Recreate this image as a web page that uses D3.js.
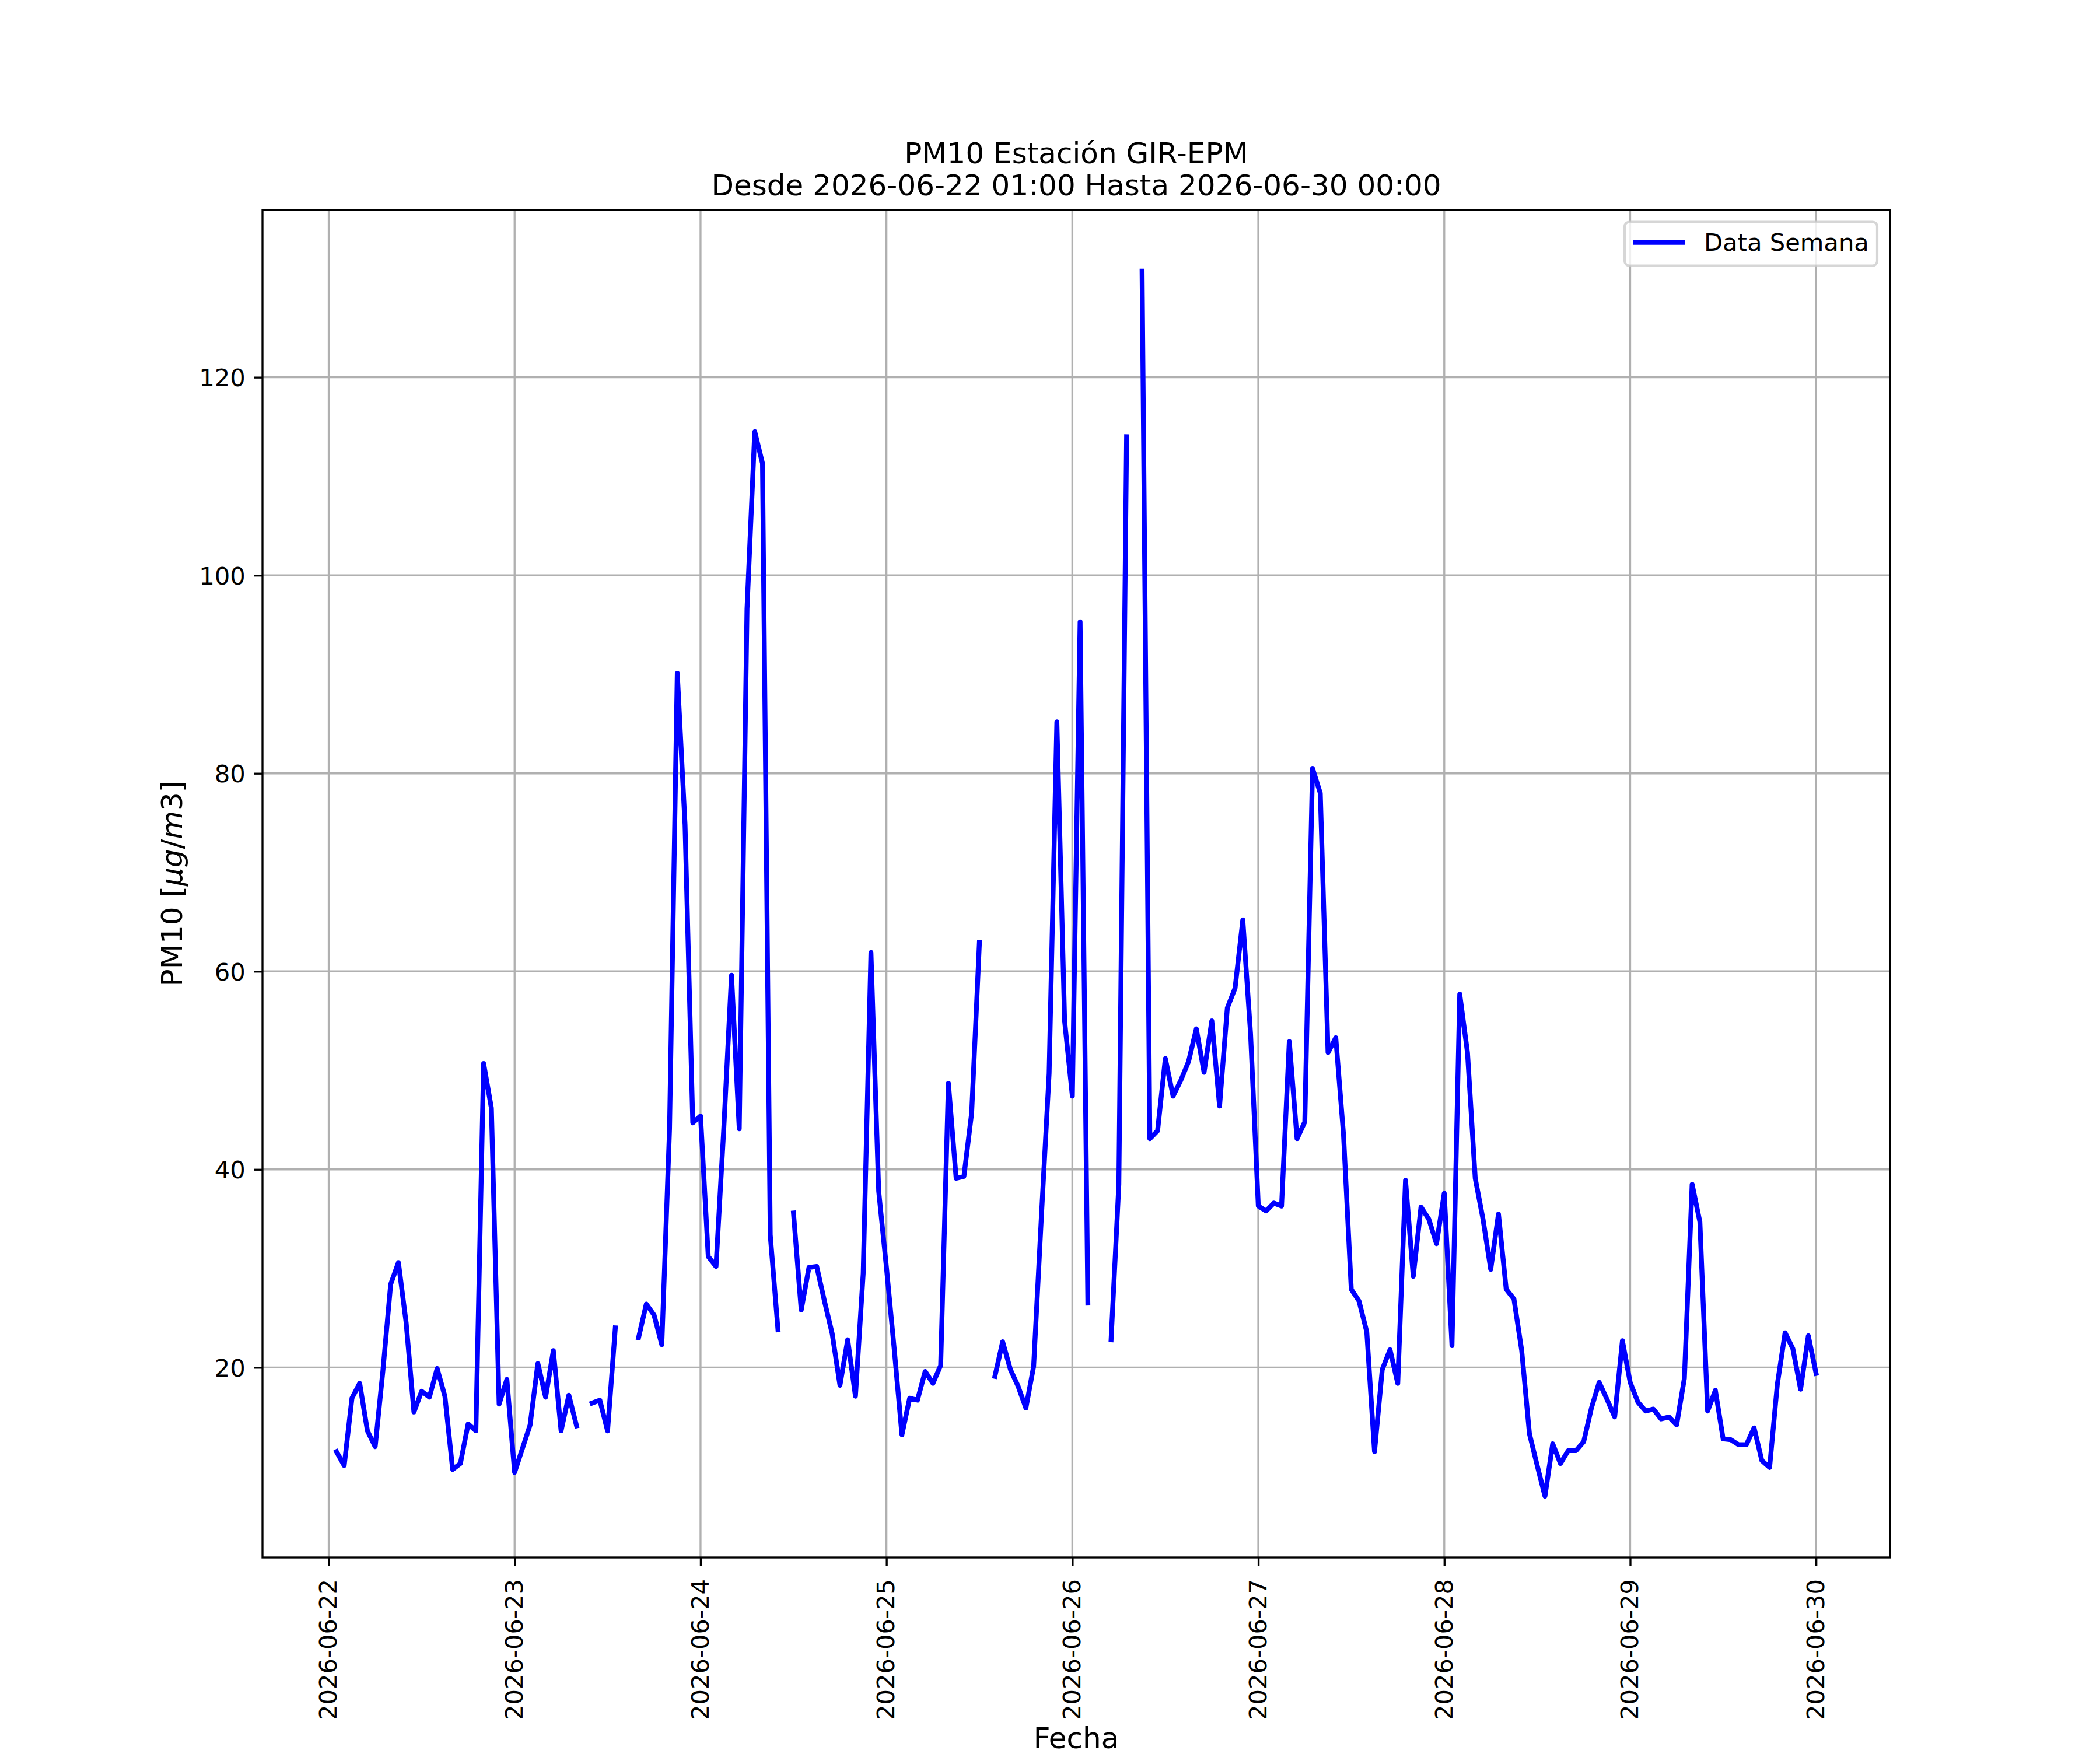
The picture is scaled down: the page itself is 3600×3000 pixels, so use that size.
<!DOCTYPE html>
<html lang="es">
<head>
  <meta charset="UTF-8" />
  <title>PM10 GIR-EPM</title>
  <script src="https://d3js.org/d3.v7.min.js"></script>
  <style>
    body { margin: 0; background: #fff; }
    svg { display: block; font-family: "DejaVu Sans", sans-serif; }
  </style>
</head>
<body>
  <svg width="3600" height="3000"></svg>

  <script>
    // PM10 horario, primer dato 2026-06-22 01:00, ultimo 2026-06-30 00:00 (null = sin dato)
    var startTime = '2026-06-22 01:00';
    var endTime = '2026-06-30 00:00';

    var pm10 = [
      // 06-22 01:00 .. 06-23 00:00
      11.5, 10.1, 16.9, 18.4, 13.6, 12.0, 19.7, 28.4, 30.6, 24.5, 15.5, 17.6,
      17.0, 19.9, 17.1, 9.7, 10.3, 14.3, 13.6, 50.7, 46.2, 16.3, 18.8, 9.4,
      // 06-23 01:00 .. 06-24 00:00
      11.8, 14.2, 20.4, 17.0, 21.7, 13.6, 17.2, 14.1, null, 16.4, 16.7, 13.6,
      24.0, null, null, 23.0, 26.4, 25.3, 22.3, 44.1, 90.1, 74.8, 44.7, 45.4,
      // 06-24 01:00 .. 06-25 00:00
      31.2, 30.2, 44.1, 59.6, 44.1, 96.6, 114.5, 111.3, 33.4, 23.8, null, 35.6,
      25.8, 30.1, 30.2, 26.7, 23.4, 18.2, 22.8, 17.1, 29.5, 61.9, 37.8, 30.1,
      // 06-25 01:00 .. 06-26 00:00
      21.9, 13.2, 16.9, 16.7, 19.6, 18.4, 20.2, 48.7, 39.1, 39.3, 45.7, 62.9,
      null, 19.1, 22.6, 19.8, 18.1, 15.9, 20.1, 35.2, 49.7, 85.2, 55.0, 47.4,
      // 06-26 01:00 .. 06-27 00:00
      95.3, 26.5, null, null, 22.8, 38.5, 114.0, null, 130.7, 43.1, 43.9, 51.2,
      47.4, 49.0, 50.9, 54.2, 49.8, 55.0, 46.4, 56.3, 58.3, 65.2, 53.7, 36.3,
      // 06-27 01:00 .. 06-28 00:00
      35.8, 36.6, 36.3, 52.9, 43.1, 44.8, 80.5, 78.0, 51.8, 53.3, 43.5, 27.9,
      26.7, 23.6, 11.5, 19.8, 21.8, 18.4, 38.9, 29.2, 36.2, 35.0, 32.5, 37.6,
      // 06-28 01:00 .. 06-29 00:00
      22.2, 57.7, 51.8, 39.1, 35.0, 29.9, 35.5, 27.9, 26.9, 21.7, 13.3, 10.1,
      7.0, 12.3, 10.3, 11.6, 11.6, 12.5, 15.9, 18.5, 16.8, 15.0, 22.7, 18.5,
      // 06-29 01:00 .. 06-30 00:00
      16.5, 15.6, 15.8, 14.8, 15.0, 14.2, 18.9, 38.5, 34.7, 15.6, 17.7, 12.8,
      12.7, 12.2, 12.2, 13.9, 10.6, 9.9, 18.3, 23.5, 21.9, 17.8, 23.2, 19.4
    ];

    var dayTicks = ['2026-06-22', '2026-06-23', '2026-06-24', '2026-06-25', '2026-06-26',
                    '2026-06-27', '2026-06-28', '2026-06-29', '2026-06-30'];
    var yTicks = [20, 40, 60, 80, 100, 120];

    var titleLines = ['PM10 Estación GIR-EPM', 'Desde 2026-06-22 01:00 Hasta 2026-06-30 00:00'];
    var seriesName = 'Data Semana';

    // area de ejes (figura 12x10 in a 300 dpi)
    var axL = 450, axR = 3240, axT = 360, axB = 2670;
    var pt = 300 / 72;

    var svg = d3.select('svg');

    var parseHour = d3.utcParse('%Y-%m-%d %H:%M');
    var parseDay = d3.utcParse('%Y-%m-%d');
    var t0 = parseHour(startTime);
    var t1 = parseHour(endTime);
    var hours = d3.utcHour.range(t0, d3.utcHour.offset(t1, 1));
    var data = hours.map(function (t, i) {
      return { t: t, v: pm10[i] };
    });

    // margenes de 5% como matplotlib
    var padT = (t1 - t0) * 0.05;
    var x = d3.scaleUtc()
      .domain([new Date(+t0 - padT), new Date(+t1 + padT)])
      .range([axL, axR]);

    var ext = d3.extent(pm10);
    var padV = (ext[1] - ext[0]) * 0.05;
    var y = d3.scaleLinear()
      .domain([ext[0] - padV, ext[1] + padV])
      .range([axB, axT]);

    // rejilla
    var grid = svg.append('g')
      .attr('stroke', '#b0b0b0')
      .attr('stroke-width', 0.8 * pt);
    grid.selectAll('.gx').data(dayTicks).enter().append('line')
      .attr('x1', function (d) { return x(parseDay(d)); })
      .attr('x2', function (d) { return x(parseDay(d)); })
      .attr('y1', axT).attr('y2', axB);
    grid.selectAll('.gy').data(yTicks).enter().append('line')
      .attr('x1', axL).attr('x2', axR)
      .attr('y1', function (d) { return y(d); })
      .attr('y2', function (d) { return y(d); });

    // serie
    var line = d3.line()
      .defined(function (d) { return d.v != null; })
      .x(function (d) { return x(d.t); })
      .y(function (d) { return y(d.v); });

    svg.append('path')
      .datum(data)
      .attr('d', line)
      .attr('fill', 'none')
      .attr('stroke', '#0000ff')
      .attr('stroke-width', 2 * pt)
      .attr('stroke-linejoin', 'round')
      .attr('stroke-linecap', 'square');

    // ejes
    var tickFont = 10 * pt;
    var axisX = d3.axisBottom(x)
      .tickValues(dayTicks.map(parseDay))
      .tickFormat(d3.utcFormat('%Y-%m-%d'))
      .tickSize(3.5 * pt)
      .tickSizeOuter(0);
    var gx = svg.append('g')
      .attr('transform', 'translate(0,' + axB + ')')
      .call(axisX);
    gx.select('.domain').remove();
    gx.selectAll('.tick line').attr('stroke', '#000').attr('stroke-width', 0.8 * pt);
    gx.selectAll('.tick text')
      .attr('x', 0).attr('y', 0)
      .attr('transform', 'translate(0,37) rotate(-90)')
      .attr('text-anchor', 'end')
      .attr('dy', '0.32em')
      .attr('fill', '#000')
      .attr('font-size', tickFont)
      .attr('font-family', '"DejaVu Sans", sans-serif');

    var axisY = d3.axisLeft(y)
      .tickValues(yTicks)
      .tickSize(3.5 * pt)
      .tickPadding(3.5 * pt)
      .tickSizeOuter(0);
    var gy = svg.append('g')
      .attr('transform', 'translate(' + axL + ',0)')
      .call(axisY);
    gy.select('.domain').remove();
    gy.selectAll('.tick line').attr('stroke', '#000').attr('stroke-width', 0.8 * pt);
    gy.selectAll('.tick text')
      .attr('dy', '0.36em')
      .attr('fill', '#000')
      .attr('font-size', tickFont)
      .attr('font-family', '"DejaVu Sans", sans-serif');

    // marco
    svg.append('rect')
      .attr('x', axL).attr('y', axT)
      .attr('width', axR - axL).attr('height', axB - axT)
      .attr('fill', 'none')
      .attr('stroke', '#000')
      .attr('stroke-width', 0.8 * pt);

    // titulos
    var cx = (axL + axR) / 2;
    svg.selectAll('.title').data(titleLines).enter().append('text')
      .attr('x', cx)
      .attr('y', function (d, i) { return 280 + i * 55; })
      .attr('text-anchor', 'middle')
      .attr('font-size', 12 * pt)
      .text(function (d) { return d; });

    svg.append('text')
      .attr('x', cx).attr('y', 2997)
      .attr('text-anchor', 'middle')
      .attr('font-size', 12 * pt)
      .text('Fecha');

    var yl = svg.append('text')
      .attr('transform', 'translate(312,' + (axT + axB) / 2 + ') rotate(-90)')
      .attr('text-anchor', 'middle')
      .attr('font-size', 12 * pt);
    yl.append('tspan').text('PM10 [');
    yl.append('tspan').attr('font-style', 'italic').text('μg');
    yl.append('tspan').text('/');
    yl.append('tspan').attr('font-style', 'italic').text('m');
    yl.append('tspan').text('3]');

    // leyenda
    var lg = svg.append('g');
    lg.append('rect')
      .attr('x', 2785).attr('y', 380.5)
      .attr('width', 433).attr('height', 75)
      .attr('rx', 8).attr('ry', 8)
      .attr('fill', '#fff').attr('fill-opacity', 0.8)
      .attr('stroke', '#cccccc').attr('stroke-opacity', 0.8)
      .attr('stroke-width', 1 * pt);
    lg.append('line')
      .attr('x1', 2799).attr('x2', 2889)
      .attr('y1', 415.6).attr('y2', 415.6)
      .attr('stroke', '#0000ff')
      .attr('stroke-width', 2 * pt);
    lg.append('text')
      .attr('x', 2921).attr('y', 430)
      .attr('font-size', tickFont)
      .text(seriesName);
  </script>
</body>
</html>
